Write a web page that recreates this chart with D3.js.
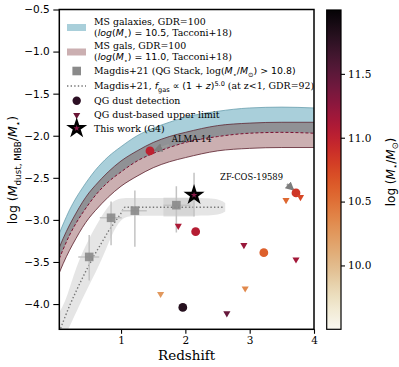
<!DOCTYPE html>
<html>
<head>
<meta charset="utf-8">
<script src="https://cdn.jsdelivr.net/npm/d3@7"></script>
<style>
  body { margin: 0; background: #fff; }
  svg text { fill: #000; }
</style>
</head>
<body>
<div id="chart"></div>
<script>
// ---- data ----
// Tacconi+18 main-sequence curves (centre of each band), log(Mdust/M*) vs redshift
const bandZ = [0.04, 0.1, 0.2, 0.3, 0.4, 0.5, 0.6, 0.8, 1.0, 1.25, 1.5, 1.75, 2.0, 2.5, 3.0, 3.5, 4.0];
const ms105 = [-3.31, -3.20, -3.03, -2.89, -2.77, -2.66, -2.56, -2.40, -2.28, -2.15, -2.06, -1.99, -1.93, -1.86, -1.82, -1.81, -1.82];
const ms110 = [-3.48, -3.37, -3.21, -3.07, -2.94, -2.83, -2.74, -2.58, -2.45, -2.33, -2.23, -2.16, -2.11, -2.03, -2.00, -1.99, -1.99];
const bandHalf = 0.15;

// Magdis+21 fgas ~ (1+z)^5 track (dotted) and its grey envelope
const trackZ = [0.04, 0.1, 0.2, 0.3, 0.4, 0.5, 0.6, 0.7, 0.8, 0.9, 1.0, 1.06, 2.6];
const trackV = [-4.33, -4.21, -4.02, -3.85, -3.69, -3.54, -3.40, -3.27, -3.14, -3.03, -2.92, -2.85, -2.85];
const envZ = [0.04, 0.15, 0.3, 0.5, 0.7, 0.85, 1.0, 1.15, 1.5, 2.0, 2.5, 2.62];
const envHi = [-4.10, -3.95, -3.55, -3.22, -2.95, -2.78, -2.74, -2.74, -2.74, -2.74, -2.74, -2.80];
const envLo = [-4.50, -4.35, -4.10, -3.78, -3.48, -3.18, -2.98, -2.95, -2.95, -2.95, -2.95, -2.90];

// Magdis+21 QG stacks
const stackZ = [0.505, 0.845, 1.215, 1.86];
const stackV = [-3.44, -2.975, -2.89, -2.825];
const stackZlo = [0.335, 0.67, 1.01, 1.66];
const stackZhi = [0.66, 1.01, 1.40, 2.08];
const stackVlo = [-3.72, -3.30, -3.32, -3.15];
const stackVhi = [-3.18, -2.78, -2.65, -2.60];

// QG dust detections
const detZ = [1.45, 3.72, 2.16, 3.22, 1.96];
const detV = [-2.18, -2.68, -3.14, -3.39, -4.04];
const detM = [11.0, 10.85, 11.05, 10.6, 11.8];

// QG upper limits
const limZ = [3.79, 3.565, 1.89, 2.91, 3.72, 1.615, 2.93, 2.645];
const limV = [-2.73, -2.765, -3.07, -3.30, -3.47, -3.88, -3.815, -4.11];
const limM = [10.75, 10.55, 11.1, 11.2, 11.15, 10.25, 10.35, 11.45];

// This work (G4)
const g4Z = 2.135, g4V = -2.705, g4Vlo = -2.96, g4Vhi = -2.44;

const xTicks = [1, 2, 3, 4];
const yTicks = [-0.5, -1.0, -1.5, -2.0, -2.5, -3.0, -3.5, -4.0];
const cTicks = [10.0, 10.5, 11.0, 11.5];

// colormap stops (low mass -> high mass)
const cmapStops = ["#faf8f1", "#ece3c3", "#dfb98a", "#e29a5c", "#e07034", "#d9481e",
                   "#c21a30", "#8e1640", "#5c1a3c", "#2e1426", "#050305"];

const SERIF = "'DejaVu Serif', serif";
const SANS = "'DejaVu Sans', sans-serif";

// ---- layout ----
const W = 399, H = 367;
const svg = d3.select("#chart").append("svg").attr("width", W).attr("height", H)
  .style("font-family", SERIF);

const x = d3.scaleLinear().domain([0.04, 4]).range([59.3, 314]);
const y = d3.scaleLinear().domain([-4.3, -0.5]).range([329.3, 9.5]);
const cInterp = d3.interpolateRgbBasis(cmapStops);
const cNorm = d3.scaleLinear().domain([9.5, 12]).range([0, 1]).clamp(true);
const color = m => cInterp(cNorm(m));

const defs = svg.append("defs");
defs.append("clipPath").attr("id", "plotclip")
  .append("rect").attr("x", x.range()[0]).attr("y", y.range()[1])
  .attr("width", x.range()[1] - x.range()[0]).attr("height", y.range()[0] - y.range()[1]);

const g = svg.append("g").attr("clip-path", "url(#plotclip)");

// MS bands
const area = d3.area().x((d, i) => x(bandZ[i])).curve(d3.curveMonotoneX);
const line = d3.line().x((d, i) => x(bandZ[i])).curve(d3.curveMonotoneX);

g.append("path").datum(ms105)
  .attr("d", area.y0(v => y(v - bandHalf)).y1(v => y(v + bandHalf)))
  .attr("fill", "#a9cfda");
g.append("path").datum(ms110)
  .attr("d", area.y0(v => y(v - bandHalf)).y1(v => y(v + bandHalf)))
  .attr("fill", "#cbafb1");
// overlap of both bands
g.append("path").datum(ms105)
  .attr("d", area.y0(v => y(v - bandHalf)).y1((v, i) => y(ms110[i] + bandHalf)))
  .attr("fill", "#909195");

g.append("path").datum(ms105).attr("d", line.y(v => y(v + bandHalf)))
  .attr("fill", "none").attr("stroke", "#6b9fae").attr("stroke-width", 0.8);
g.append("path").datum(ms110).attr("d", line.y(v => y(v + bandHalf)))
  .attr("fill", "none").attr("stroke", "#5a2a36").attr("stroke-width", 0.8);
g.append("path").datum(ms110).attr("d", line.y(v => y(v - bandHalf)))
  .attr("fill", "none").attr("stroke", "#5a1f2c").attr("stroke-width", 0.8);
g.append("path").datum(ms105).attr("d", line.y(v => y(v - bandHalf)))
  .attr("fill", "none").attr("stroke", "#7a1030").attr("stroke-width", 1)
  .attr("stroke-dasharray", "3,2");

// grey envelope of the Magdis+21 track
g.append("path").datum(envZ)
  .attr("d", d3.area().x(z => x(z)).y0((z, i) => y(envLo[i])).y1((z, i) => y(envHi[i])).curve(d3.curveBasis))
  .attr("fill", "#dadada").attr("fill-opacity", 0.7);
// darker patch around the highest-z stack
g.append("rect")
  .attr("x", x(stackZlo[3])).attr("y", y(stackV[3] + 0.09))
  .attr("width", x(g4Z) - x(stackZlo[3])).attr("height", y(-2.96) - y(stackV[3] + 0.09))
  .attr("fill", "#c8c8c8").attr("fill-opacity", 0.5);

g.append("path").datum(trackZ)
  .attr("d", d3.line().x(z => x(z)).y((z, i) => y(trackV[i])).curve(d3.curveMonotoneX))
  .attr("fill", "none").attr("stroke", "#777").attr("stroke-width", 1.4)
  .attr("stroke-dasharray", "1.4,2.2");

// stack error bars
const eb = g.append("g").attr("stroke", "#c3c3c3").attr("stroke-width", 1.5);
stackZ.forEach((z, i) => {
  eb.append("line").attr("x1", x(stackZlo[i])).attr("x2", x(stackZhi[i]))
    .attr("y1", y(stackV[i])).attr("y2", y(stackV[i]));
  eb.append("line").attr("x1", x(z)).attr("x2", x(z))
    .attr("y1", y(stackVlo[i])).attr("y2", y(stackVhi[i]));
});
eb.append("line").attr("x1", x(g4Z)).attr("x2", x(g4Z)).attr("y1", y(g4Vlo)).attr("y2", y(g4Vhi));

g.selectAll("rect.stack").data(stackZ).join("rect").attr("class", "stack")
  .attr("x", (z) => x(z) - 4.3).attr("y", (z, i) => y(stackV[i]) - 4.3)
  .attr("width", 8.6).attr("height", 8.6)
  .attr("fill", "#8a8a8a").attr("fill-opacity", 0.9);

// annotations
defs.append("marker").attr("id", "ah").attr("viewBox", "0 0 10 10")
  .attr("refX", 8).attr("refY", 5).attr("markerWidth", 4).attr("markerHeight", 4)
  .attr("orient", "auto").append("path").attr("d", "M0,0L10,5L0,10z").attr("fill", "#7d7d7d");

const annos = [
  { label: "ALMA-14", tz: 1.79, tv: -2.075, az0: 1.745, av0: -2.11, az1: 1.53, av1: -2.17 },
  { label: "ZF-COS-19589", tz: 2.54, tv: -2.53, az0: 3.58, av0: -2.575, az1: 3.675, av1: -2.64 }
];
annos.forEach(a => {
  g.append("line").attr("x1", x(a.az0)).attr("y1", y(a.av0)).attr("x2", x(a.az1)).attr("y2", y(a.av1))
    .attr("stroke", "#9a9a9a").attr("stroke-width", 2.2).attr("marker-end", "url(#ah)");
  g.append("text").attr("x", x(a.tz)).attr("y", y(a.tv)).attr("font-size", 8.4).text(a.label);
});

// scatter: detections and upper limits
g.selectAll("circle.det").data(detZ).join("circle").attr("class", "det")
  .attr("cx", z => x(z)).attr("cy", (z, i) => y(detV[i])).attr("r", 4.4)
  .attr("fill", (z, i) => color(detM[i]));

const tri = d3.symbol(d3.symbolTriangle, 22);
g.selectAll("path.lim").data(limZ).join("path").attr("class", "lim")
  .attr("d", tri)
  .attr("transform", (z, i) => `translate(${x(z)},${y(limV[i])}) rotate(180)`)
  .attr("fill", (z, i) => color(limM[i]));

// this work
const star = d3.symbol(d3.symbolStar, 58);
g.append("path").attr("d", star)
  .attr("transform", `translate(${x(g4Z)},${y(g4V)})`)
  .attr("fill", "#8a1b4a").attr("stroke", "#000").attr("stroke-width", 2.4);

// ---- axes ----
const fmt = d3.format(".1f");
const xAxis = svg.append("g").attr("transform", `translate(0,${y.range()[0]})`)
  .call(d3.axisBottom(x).tickValues(xTicks).tickFormat(d3.format("d")).tickSize(4.5).tickPadding(3));
xAxis.selectAll("text").attr("font-size", 10.5).style("font-family", SERIF);
const yAxis = svg.append("g").attr("transform", `translate(${x.range()[0]},0)`)
  .call(d3.axisLeft(y).tickValues(yTicks).tickFormat(fmt).tickSize(6).tickPadding(3.5));
yAxis.selectAll("text").attr("font-size", 10.5).style("font-family", SANS);
[xAxis, yAxis].forEach(a => {
  a.select(".domain").remove();
  a.selectAll("line").attr("stroke", "#000").attr("stroke-width", 1.1);
});

svg.append("rect")
  .attr("x", x.range()[0]).attr("y", y.range()[1])
  .attr("width", x.range()[1] - x.range()[0]).attr("height", y.range()[0] - y.range()[1])
  .attr("fill", "none").attr("stroke", "#000").attr("stroke-width", 1.5);

svg.append("text").attr("x", (x.range()[0] + x.range()[1]) / 2).attr("y", 360)
  .attr("text-anchor", "middle").attr("font-size", 13.5).text("Redshift");

// rich text helper: parts = [{t, sans, it, sub, sup}]
function rich(sel, parts, fs) {
  let shift = 0;
  parts.forEach(p => {
    const ts = sel.append("tspan").text(p.t);
    if (p.sans) ts.style("font-family", SANS);
    if (p.it) ts.style("font-style", "italic");
    const target = p.sub ? fs * 0.28 : p.sup ? -fs * 0.38 : 0;
    if (target !== shift) { ts.attr("dy", target - shift); shift = target; }
    if (p.sub || p.sup) ts.attr("font-size", fs * 0.7);
  });
}

const ylab = svg.append("text").attr("transform", "translate(17,170) rotate(-90)")
  .attr("text-anchor", "middle").attr("font-size", 12.5).style("font-family", SANS);
rich(ylab, [{ t: "log (" }, { t: "M", it: true }, { t: "dust, MBB", sub: true },
  { t: "/" }, { t: "M", it: true }, { t: "⋆", sub: true }, { t: ")" }], 12.5);

// ---- colorbar ----
const cbX = 326.7, cbW = 14.3;
const cY = d3.scaleLinear().domain([9.5, 12]).range([329.3, 10]);
const grad = defs.append("linearGradient").attr("id", "cbgrad")
  .attr("x1", "0%").attr("x2", "0%").attr("y1", "100%").attr("y2", "0%");
d3.range(0, 1.0001, 0.02).forEach(t => {
  grad.append("stop").attr("offset", `${t * 100}%`).attr("stop-color", cInterp(t));
});
svg.append("rect").attr("x", cbX).attr("y", cY(12)).attr("width", cbW)
  .attr("height", cY(9.5) - cY(12)).attr("fill", "url(#cbgrad)")
  .attr("stroke", "#000").attr("stroke-width", 1.2);
const cAxis = svg.append("g").attr("transform", `translate(${cbX + cbW},0)`)
  .call(d3.axisRight(cY).tickValues(cTicks).tickFormat(fmt).tickSize(4).tickPadding(3));
cAxis.select(".domain").remove();
cAxis.selectAll("line").attr("stroke", "#000").attr("stroke-width", 1.1);
cAxis.selectAll("text").attr("font-size", 10.5).style("font-family", SERIF);

const clab = svg.append("text").attr("transform", "translate(395,172) rotate(-90)")
  .attr("text-anchor", "middle").attr("font-size", 12).style("font-family", SANS);
rich(clab, [{ t: "log (" }, { t: "M", it: true }, { t: "⋆", sub: true }, { t: "/" },
  { t: "M", it: true }, { t: "⊙", sub: true }, { t: ")" }], 12);

// ---- legend ----
const lg = svg.append("g");
const lfs = 9.4, tx = 94, mx = 76.7;
const ltext = (yy, parts) => rich(lg.append("text").attr("x", tx).attr("y", yy + 3.3).attr("font-size", lfs), parts, lfs);

lg.append("rect").attr("x", 67).attr("y", 24).attr("width", 19).attr("height", 7).attr("fill", "#a9cfda");
ltext(21.7, [{ t: "MS galaxies, GDR=100" }]);
ltext(32.7, [{ t: "(" }, { t: "log", sans: true, it: true }, { t: "(", sans: true }, { t: "M", sans: true, it: true },
  { t: "⋆", sans: true, sub: true }, { t: ") = 10.5", sans: true }, { t: ", Tacconi+18)" }]);

lg.append("rect").attr("x", 67).attr("y", 48.5).attr("width", 19).attr("height", 7).attr("fill", "#cbafb1");
ltext(46, [{ t: "MS gals, GDR=100" }]);
ltext(56.7, [{ t: "(" }, { t: "log", sans: true, it: true }, { t: "(", sans: true }, { t: "M", sans: true, it: true },
  { t: "⋆", sans: true, sub: true }, { t: ") = 11.0", sans: true }, { t: ", Tacconi+18)" }]);

lg.append("rect").attr("x", mx - 4.3).attr("y", 71 - 4.3).attr("width", 8.6).attr("height", 8.6)
  .attr("fill", "#8a8a8a");
ltext(71, [{ t: "Magdis+21 (QG Stack, log(" }, { t: "M", sans: true, it: true }, { t: "⋆", sans: true, sub: true },
  { t: "/", sans: true }, { t: "M", sans: true, it: true }, { t: "⊙", sans: true, sub: true }, { t: ") > 10.8)", sans: true }]);

lg.append("line").attr("x1", 67).attr("x2", 86).attr("y1", 86).attr("y2", 86)
  .attr("stroke", "#777").attr("stroke-width", 1.4).attr("stroke-dasharray", "1.4,2.2");
ltext(86, [{ t: "Magdis+21, " }, { t: "f", sans: true, it: true }, { t: "gas", sans: true, sub: true },
  { t: " ∝ (1 + ", sans: true }, { t: "z", sans: true, it: true }, { t: ")", sans: true },
  { t: "5.0", sans: true, sup: true }, { t: " (at z<1, GDR=92)" }]);

lg.append("circle").attr("cx", mx).attr("cy", 100.7).attr("r", 4.2).attr("fill", "#2c0f24");
ltext(100.7, [{ t: "QG dust detection" }]);

lg.append("path").attr("d", tri).attr("transform", `translate(${mx},115) rotate(180)`).attr("fill", "#6b1536");
ltext(115, [{ t: "QG dust-based upper limit" }]);

lg.append("path").attr("d", star).attr("transform", `translate(${mx},128.3)`)
  .attr("fill", "#8a1b4a").attr("stroke", "#000").attr("stroke-width", 2.4);
ltext(128.3, [{ t: "This work (G4)" }]);
</script>
</body>
</html>
